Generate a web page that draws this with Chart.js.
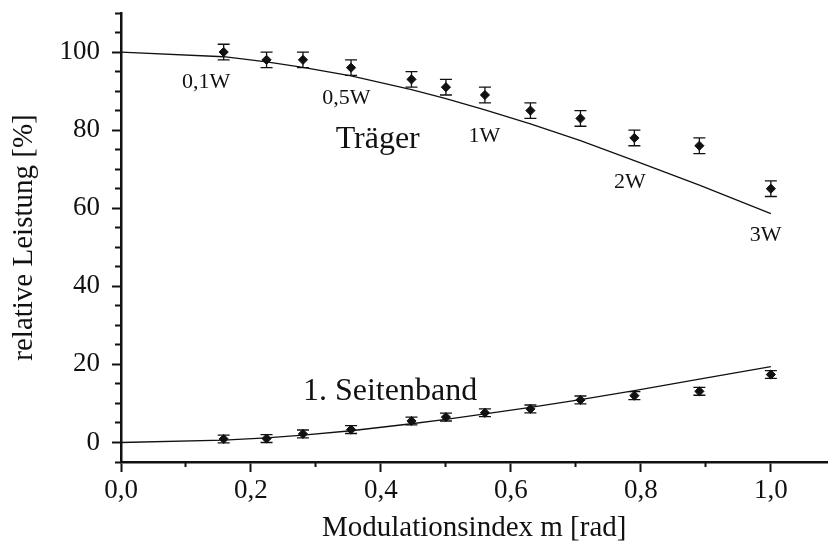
<!DOCTYPE html>
<html>
<head>
<meta charset="utf-8">
<script src="https://cdn.jsdelivr.net/npm/chart.js@4/dist/chart.umd.min.js"></script>
<style>
  html, body { margin: 0; padding: 0; background: #fff; }
  #wrap { width: 833px; height: 546px; position: relative; }
</style>
</head>
<body>
<div id="wrap"><canvas id="c"></canvas></div>
<script>
// ---- data ----
const measM        = [0.158, 0.224, 0.28, 0.354, 0.447, 0.5, 0.56, 0.63, 0.707, 0.79, 0.89, 1.0];
const traegerMeas  = [100, 98, 98, 96, 93, 91, 89, 85, 83, 78, 76, 65];
const traegerErr   = [2, 2, 2, 2, 2, 2, 2, 2, 2, 2, 2, 2];
const seitenMeas   = [0.9, 1.0, 2.2, 3.3, 5.5, 6.5, 7.6, 8.6, 10.9, 12.0, 13.1, 17.4];
const seitenErr    = [1, 1, 1, 1, 1, 1, 1, 1, 1, 1, 1, 1];
const fitM         = [0, 0.158, 0.224, 0.28, 0.354, 0.447, 0.5, 0.56, 0.63, 0.707, 0.79, 0.89, 1.0];
const traegerFit   = [100, 98.8, 97.5, 96.1, 93.9, 90.4, 88.1, 85.2, 81.6, 77.3, 72.2, 65.9, 58.6];
const seitenFit    = [0, 0.6, 1.2, 1.9, 3.0, 4.8, 5.9, 7.3, 9.0, 11.0, 13.3, 16.2, 19.4];

const xMajorTicks  = [0, 0.2, 0.4, 0.6, 0.8, 1.0];
const xMinorTicks  = [0.1, 0.3, 0.5, 0.7, 0.9];
const yMajorTicks  = [0, 20, 40, 60, 80, 100];
const yMinorTicks  = [-5, 5, 10, 15, 25, 30, 35, 45, 50, 55, 65, 70, 75, 85, 90, 95, 105, 110];

const xTitle = 'Modulationsindex m [rad]';
const yTitle = 'relative Leistung [%]';

// in-plot text labels (data coordinates of text anchor)
const noteTexts = ['0,1W', '0,5W', 'Träger', '1W', '2W', '3W', '1. Seitenband'];
const noteX     = [0.131, 0.347, 0.395, 0.559, 0.783, 0.992, 0.414];
const noteY     = [90.7, 86.7, 75.3, 77.0, 65.1, 51.6, 10.9];
const noteSize  = [22, 22, 32, 22, 22, 22, 32];

// ---- chart ----
const FONT = '"Liberation Serif", "Times New Roman", serif';
const INK = '#111';
Chart.defaults.font.family = FONT;
Chart.defaults.color = INK;

const toXY = (xs, ys) => xs.map((v, i) => ({ x: v, y: ys[i] }));

const errorBars = {
  id: 'errorBars',
  beforeDatasetsDraw(chart) {
    const { ctx } = chart;
    const xs = chart.scales.x, ys = chart.scales.y;
    ctx.save();
    ctx.strokeStyle = INK;
    ctx.lineWidth = 1.3;
    chart.data.datasets.forEach(ds => {
      if (!ds.errors) return;
      ds.data.forEach((p, i) => {
        const e = ds.errors[i];
        const px = xs.getPixelForValue(p.x);
        const t = ys.getPixelForValue(p.y + e);
        const b = ys.getPixelForValue(p.y - e);
        ctx.beginPath();
        ctx.moveTo(px, t); ctx.lineTo(px, b);
        ctx.moveTo(px - 6, t); ctx.lineTo(px + 6, t);
        ctx.moveTo(px - 6, b); ctx.lineTo(px + 6, b);
        ctx.stroke();
      });
    });
    ctx.restore();
  }
};

const notes = {
  id: 'notes',
  afterDraw(chart) {
    const { ctx } = chart;
    const xs = chart.scales.x, ys = chart.scales.y;
    ctx.save();
    ctx.fillStyle = INK;
    ctx.textAlign = 'center';
    ctx.textBaseline = 'alphabetic';
    noteTexts.forEach((t, i) => {
      ctx.font = noteSize[i] + 'px ' + FONT;
      ctx.fillText(t, xs.getPixelForValue(noteX[i]), ys.getPixelForValue(noteY[i]));
    });
    ctx.restore();
  }
};

const fmtX = v => Number(v).toFixed(1).replace('.', ',');

new Chart(document.getElementById('c'), {
  type: 'scatter',
  data: {
    datasets: [
      { label: 'Träger (Theorie)', type: 'line', data: toXY(fitM, traegerFit),
        borderColor: INK, borderWidth: 1.3, pointRadius: 0, tension: 0, fill: false },
      { label: '1. Seitenband (Theorie)', type: 'line', data: toXY(fitM, seitenFit),
        borderColor: INK, borderWidth: 1.3, pointRadius: 0, tension: 0, fill: false },
      { label: 'Träger', data: toXY(measM, traegerMeas), errors: traegerErr,
        pointStyle: 'rectRot', pointRadius: 4.6, pointBorderWidth: 1,
        backgroundColor: INK, borderColor: INK },
      { label: '1. Seitenband', data: toXY(measM, seitenMeas), errors: seitenErr,
        pointStyle: 'rectRot', pointRadius: 4.6, pointBorderWidth: 1,
        backgroundColor: INK, borderColor: INK }
    ]
  },
  options: {
    responsive: true,
    maintainAspectRatio: false,
    animation: false,
    layout: { padding: { top: 13, right: 0, bottom: 0, left: 0 } },
    plugins: { legend: { display: false }, tooltip: { enabled: false } },
    scales: {
      x: {
        type: 'linear', position: 'bottom', weight: 10, min: 0, max: 1.087,
        afterBuildTicks: s => { s.ticks = xMajorTicks.map(v => ({ value: v })); },
        afterFit: s => { s.height = 84; s.paddingLeft = 0; s.paddingRight = 0; },
        ticks: { callback: v => fmtX(v), font: { size: 27 }, padding: 3, color: INK, maxRotation: 0, autoSkip: false },
        grid: { drawOnChartArea: false, tickLength: 10, tickWidth: 2, tickColor: INK },
        border: { color: INK, width: 2.5 },
        title: { display: true, text: xTitle, font: { size: 29 }, color: INK, padding: { top: 0, bottom: 0 } }
      },
      x2: {
        type: 'linear', position: 'bottom', weight: 0, min: 0, max: 1.087,
        afterBuildTicks: s => { s.ticks = xMinorTicks.map(v => ({ value: v })); },
        afterFit: s => { s.height = 0; s.paddingLeft = 0; s.paddingRight = 0; },
        ticks: { display: false },
        grid: { drawOnChartArea: false, tickLength: 5, tickWidth: 2, tickColor: INK },
        border: { display: false }
      },
      y: {
        type: 'linear', position: 'left', weight: 10, min: -5, max: 110,
        afterBuildTicks: s => { s.ticks = yMajorTicks.map(v => ({ value: v })); },
        afterFit: s => { s.width = 121; s.paddingTop = 0; s.paddingBottom = 0; },
        ticks: { callback: v => String(v), font: { size: 27 }, padding: 12, color: INK },
        grid: { drawOnChartArea: false, tickLength: 9, tickWidth: 2, tickColor: INK },
        border: { color: INK, width: 2.5 },
        title: { display: true, text: yTitle, font: { size: 29 }, color: INK, padding: { top: 7, bottom: 0 } }
      },
      y2: {
        type: 'linear', position: 'left', weight: 0, min: -5, max: 110,
        afterBuildTicks: s => { s.ticks = yMinorTicks.map(v => ({ value: v })); },
        afterFit: s => { s.width = 0; s.paddingTop = 0; s.paddingBottom = 0; },
        ticks: { display: false },
        grid: { drawOnChartArea: false, tickLength: 6, tickWidth: 2, tickColor: INK },
        border: { display: false }
      }
    }
  },
  plugins: [errorBars, notes]
});
</script>
</body>
</html>
